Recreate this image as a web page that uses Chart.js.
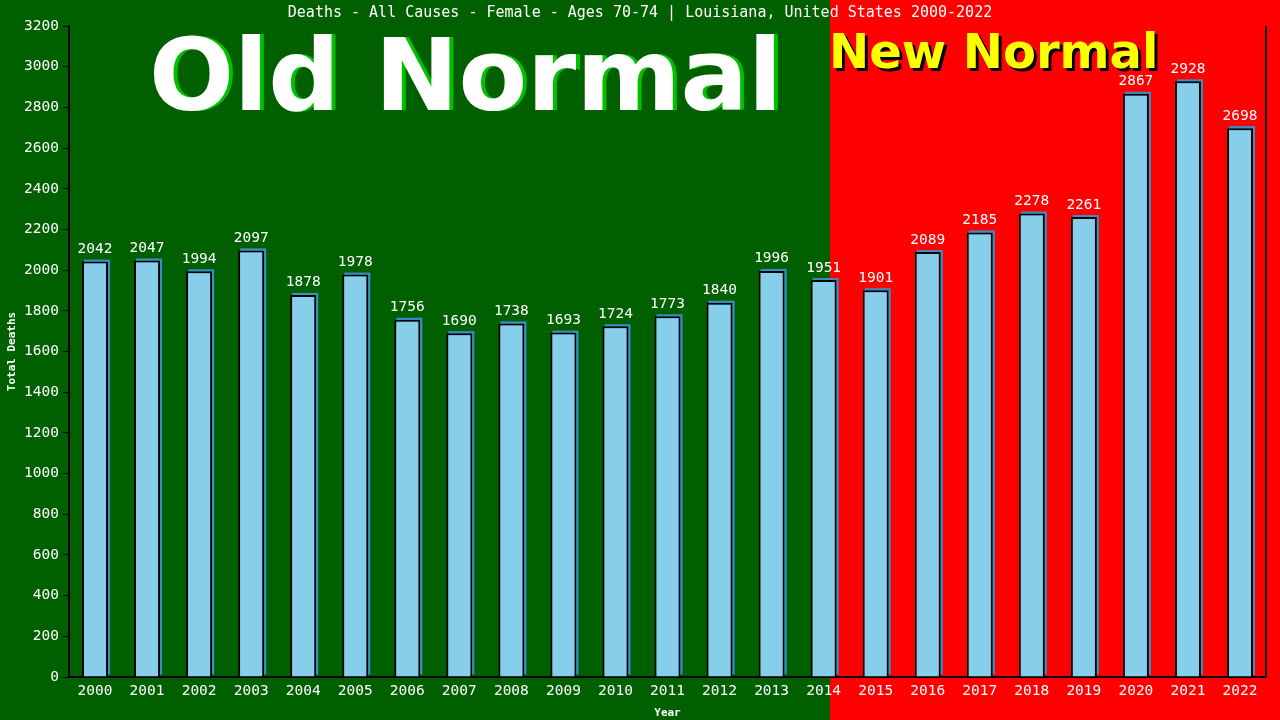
<!DOCTYPE html>
<html>
<head>
<meta charset="utf-8">
<script src="https://cdn.jsdelivr.net/npm/chart.js@4"></script>
<style>
  html, body { margin: 0; padding: 0; background: #006000; }
  #wrap { width: 1280px; height: 720px; }
</style>
</head>
<body>
<div id="wrap"><canvas id="chart" width="1280" height="720"></canvas></div>
<script>
const years = ["2000","2001","2002","2003","2004","2005","2006","2007","2008","2009","2010","2011",
  "2012","2013","2014","2015","2016","2017","2018","2019","2020","2021","2022"];
const deaths = [2042,2047,1994,2097,1878,1978,1756,1690,1738,1693,1724,1773,
  1840,1996,1951,1901,2089,2185,2278,2261,2867,2928,2698];
const yTicks = [0,200,400,600,800,1000,1200,1400,1600,1800,2000,2200,2400,2600,2800,3000,3200];
const titleText = "Deaths - All Causes - Female - Ages 70-74 | Louisiana, United States 2000-2022";

const MONO = "'DejaVu Sans Mono', monospace";

// background halves, title and the big labels
const backdrop = {
  id: "backdrop",
  beforeDraw(chart) {
    const ctx = chart.ctx;
    ctx.save();
    ctx.fillStyle = "#006000";
    ctx.fillRect(0, 0, 830, chart.height);
    ctx.fillStyle = "#ff0000";
    ctx.fillRect(830, 0, chart.width - 830, chart.height);

    ctx.textBaseline = "alphabetic";
    ctx.font = "bold 100px 'DejaVu Sans'";
    ctx.textAlign = "left";
    ctx.fillStyle = "#00c000";
    ctx.fillText("Old Normal", 153, 110);
    ctx.fillStyle = "#ffffff";
    ctx.fillText("Old Normal", 149, 110);

    ctx.font = "bold 48px 'DejaVu Sans'";
    ctx.fillStyle = "#000000";
    ctx.fillText("New Normal", 832, 71);
    ctx.fillStyle = "#ffff00";
    ctx.fillText("New Normal", 829, 68);

    ctx.font = "15px " + MONO;
    ctx.textAlign = "center";
    ctx.textBaseline = "middle";
    ctx.fillStyle = "#ffffff";
    ctx.fillText(titleText, 640, 13);
    ctx.restore();
  },
  beforeDatasetsDraw(chart) {
    // bar shadow on the upper right side
    const ctx = chart.ctx;
    ctx.save();
    ctx.fillStyle = "#3b8fc4";
    chart.getDatasetMeta(0).data.forEach((bar) => {
      const w = bar.width;
      ctx.fillRect(bar.x - w / 2 + 2, bar.y - 2, w, bar.base - bar.y);
    });
    ctx.restore();
  },
  afterDatasetsDraw(chart) {
    const ctx = chart.ctx;
    const area = chart.chartArea;
    ctx.save();
    ctx.strokeStyle = "#000000";
    ctx.lineWidth = 2;
    ctx.beginPath();
    ctx.moveTo(area.right, area.top);
    ctx.lineTo(area.right, area.bottom);
    ctx.stroke();

    ctx.font = "14.5px " + MONO;
    ctx.fillStyle = "#ffffff";
    ctx.textAlign = "center";
    ctx.textBaseline = "bottom";
    chart.getDatasetMeta(0).data.forEach((bar, i) => {
      ctx.fillText(String(deaths[i]), bar.x, bar.y - 5);
    });
    ctx.restore();
  },
};

const ctx = document.getElementById("chart").getContext("2d");
new Chart(ctx, {
  type: "bar",
  data: {
    labels: years,
    datasets: [
      {
        label: "Total Deaths",
        data: deaths,
        backgroundColor: "#87ceeb",
        borderColor: "#000000",
        borderWidth: { top: 2, left: 2, right: 2, bottom: 0 },
        borderSkipped: "bottom",
        barPercentage: 0.5,
        categoryPercentage: 1.0,
      },
    ],
  },
  options: {
    responsive: false,
    animation: false,
    devicePixelRatio: 1,
    layout: { padding: { top: 26, right: 14, left: 0, bottom: 0 } },
    plugins: {
      legend: { display: false },
      tooltip: { enabled: false },
      title: { display: false },
    },
    scales: {
      x: {
        grid: { display: false, drawTicks: false },
        border: { color: "#000000", width: 2 },
        ticks: {
          color: "#ffffff",
          font: { family: MONO, size: 14.5 },
          maxRotation: 0,
          autoSkip: false,
          padding: 6,
        },
        title: {
          display: true,
          text: "Year",
          color: "#ffffff",
          font: { family: MONO, size: 11, weight: "bold" },
          padding: { top: 0, bottom: 0 },
        },
        afterFit(scale) { scale.height = 43; },
      },
      y: {
        min: 0,
        max: 3200,
        afterBuildTicks(scale) {
          scale.ticks = yTicks.map((v) => ({ value: v }));
        },
        grid: {
          drawOnChartArea: false,
          drawTicks: true,
          tickLength: 6,
          color: "#000000",
          tickColor: "#000000",
        },
        border: { color: "#000000", width: 2 },
        ticks: {
          color: "#ffffff",
          font: { family: MONO, size: 14.5 },
          padding: 4,
          callback: (v) => String(v),
        },
        title: {
          display: true,
          text: "Total Deaths",
          color: "#ffffff",
          font: { family: MONO, size: 11, weight: "bold" },
          padding: { top: 6, bottom: 2 },
        },
        afterFit(scale) { scale.width = 69; },
      },
    },
  },
  plugins: [backdrop],
});
</script>
</body>
</html>
